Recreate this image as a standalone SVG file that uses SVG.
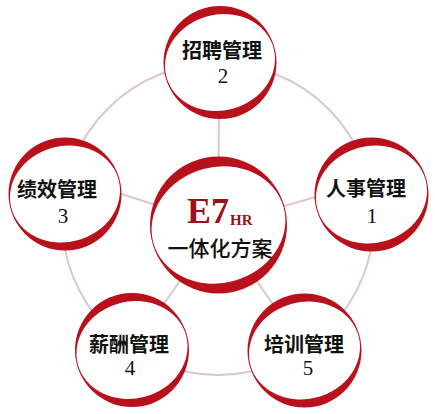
<svg xmlns="http://www.w3.org/2000/svg" width="435" height="414" viewBox="0 0 435 414">
<style>
.link{stroke:#dfc6ca;stroke-width:2;fill:none}
.red{fill:#b8111c}
.white{fill:#ffffff}
.lbl{font-family:"Noto Sans CJK SC",sans-serif;font-size:20px;fill:#111;text-anchor:middle;font-weight:bold}
.num{font-family:"Liberation Serif",serif;font-size:21px;fill:#111;text-anchor:middle}
.e7{font-family:"Liberation Serif",serif;fill:#9c1019;font-weight:bold}
</style>
<rect width="435" height="414" fill="#ffffff"/>
<g id="connectors">
<circle class="link" cx="218" cy="219" r="156"/>
<line class="link" x1="218.5" y1="225" x2="219" y2="62"/>
<line class="link" x1="218.5" y1="225" x2="65" y2="176"/>
<line class="link" x1="218.5" y1="225" x2="371" y2="181"/>
<line class="link" x1="218.5" y1="225" x2="132" y2="350"/>
<line class="link" x1="218.5" y1="225" x2="304.5" y2="350.5"/>
</g>
<g id="node-top">
<circle class="red" cx="220" cy="62.5" r="56.5"/>
<ellipse class="white" cx="220" cy="62.5" rx="55.5" ry="48" transform="rotate(-15 220 62.5)"/>
<text class="lbl" x="222" y="58">招聘管理</text>
<text class="num" x="223" y="83">2</text>
</g>
<g id="node-left">
<circle class="red" cx="65" cy="194" r="56.5"/>
<ellipse class="white" cx="65" cy="194" rx="55.5" ry="48" transform="rotate(-15 65 194)"/>
<text class="lbl" x="57" y="197">绩效管理</text>
<text class="num" x="63" y="223">3</text>
</g>
<g id="node-right">
<circle class="red" cx="371.5" cy="194.5" r="57"/>
<ellipse class="white" cx="371.5" cy="194.5" rx="56" ry="48.5" transform="rotate(-15 371.5 194.5)"/>
<text class="lbl" x="366" y="196">人事管理</text>
<text class="num" x="372" y="223">1</text>
</g>
<g id="node-bottom-left">
<circle class="red" cx="132" cy="350" r="57"/>
<ellipse class="white" cx="132" cy="350" rx="56" ry="48.5" transform="rotate(-15 132 350)"/>
<text class="lbl" x="129" y="352">薪酬管理</text>
<text class="num" x="130" y="375">4</text>
</g>
<g id="node-bottom-right">
<circle class="red" cx="304.5" cy="350.5" r="57"/>
<ellipse class="white" cx="304.5" cy="350.5" rx="56" ry="48.5" transform="rotate(-15 304.5 350.5)"/>
<text class="lbl" x="304" y="352">培训管理</text>
<text class="num" x="308" y="375">5</text>
</g>
<g id="node-center">
<circle class="red" cx="218.5" cy="225" r="68.5"/>
<ellipse class="white" cx="218.5" cy="225" rx="67.5" ry="58" transform="rotate(-15 218.5 225)"/>
<text class="e7" x="187" y="223" font-size="36">E7</text>
<text class="e7" x="230" y="225" font-size="15">HR</text>
<text class="lbl" x="220" y="256" style="font-size:21px;font-weight:500">一体化方案</text>
</g>
</svg>
